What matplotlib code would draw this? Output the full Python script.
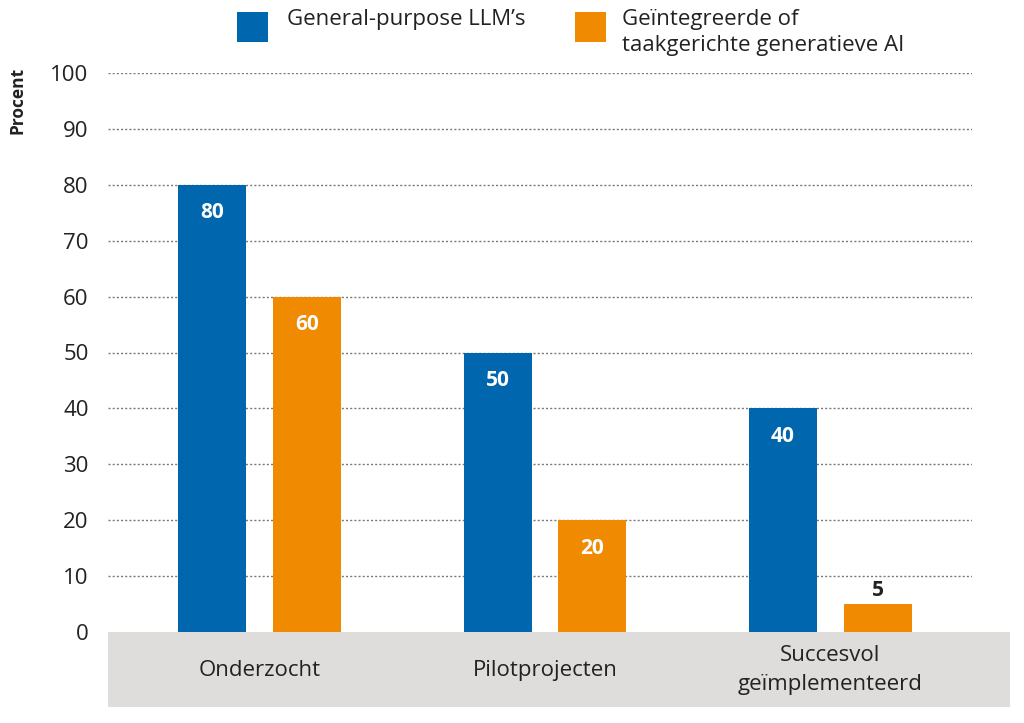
import matplotlib
matplotlib.use("Agg")
import matplotlib.pyplot as plt
from matplotlib.patches import Rectangle
import numpy as np

# Data
categories = ['Onderzocht', 'Pilotprojecten', 'Succesvol\ngeïmplementeerd']
general_llm = [80, 50, 40]
integrated_ai = [60, 20, 5]
series_names = ["General-purpose LLM’s", "Geïntegreerde of\ntaakgerichte generatieve AI"]
yticks = list(range(0, 101, 10))

blue = '#0066ae'
orange = '#f08a00'
band = '#dfdcdc'

plt.rcParams['font.family'] = ['Open Sans', 'DejaVu Sans']

W, H = 1024, 723
fig = plt.figure(figsize=(W / 100, H / 100), dpi=100)
ax = fig.add_axes([108 / W, 1 - 632 / H, (972 - 108) / W, (632 - 73) / H])
ax.set_zorder(2)
ax.patch.set_alpha(0)

# grey band under the axis with the category labels
fig.patches.append(Rectangle((108 / W, 1 - 707 / H), (1010 - 108) / W, 75 / H,
                             transform=fig.transFigure, facecolor=band,
                             edgecolor='none', zorder=0))

x = np.arange(len(categories))
width = 0.238
off = 0.166

bars1 = ax.bar(x - off, general_llm, width, color=blue, zorder=3)
bars2 = ax.bar(x + off, integrated_ai, width, color=orange, zorder=3)

for bars in (bars1, bars2):
    for b in bars:
        h = b.get_height()
        cx = b.get_x() + b.get_width() / 2
        if h >= 10:
            ax.text(cx, h - 5, f'{h:g}', ha='center', va='center', color='white',
                    fontsize=15, fontweight='bold', zorder=4)
        else:
            ax.text(cx, h + 2.5, f'{h:g}', ha='center', va='center', color='#222222',
                    fontsize=15, fontweight='bold', zorder=4)

for i, cat in enumerate(categories):
    ax.text(i, -6.8, cat, ha='center', va='center', fontsize=16, color='#222222',
            clip_on=False, linespacing=1.45)

ax.set_xlim(-0.531, 2.496)
ax.set_ylim(0, 100)
ax.set_yticks(yticks)
ax.set_yticklabels([str(t) for t in yticks], fontsize=16, color='#222222')
ax.set_xticks([])
ax.tick_params(axis='y', length=0, pad=14)
for s in ax.spines.values():
    s.set_visible(False)
for t in yticks[1:]:
    ax.axhline(t, color='#7a7a7a', linestyle=(0, (1.5, 1.5)), linewidth=1.0, zorder=1)

fig.text(18 / W, 1 - 100 / H, 'Procent', rotation=90, ha='center', va='center',
         fontsize=12.5, fontweight='bold', color='#222222')

# legend built by hand
fig.patches.append(Rectangle((237 / W, 1 - 42 / H), 31 / W, 30 / H,
                             transform=fig.transFigure, facecolor=blue, edgecolor='none'))
fig.patches.append(Rectangle((575 / W, 1 - 42 / H), 31 / W, 30 / H,
                             transform=fig.transFigure, facecolor=orange, edgecolor='none'))
fig.text(287 / W, 1 - 9 / H, series_names[0], ha='left', va='top', fontsize=16, color='#222222')
fig.text(622 / W, 1 - 9 / H, series_names[1], ha='left', va='top', fontsize=16,
         color='#222222', linespacing=1.3)

fig.savefig('out.png', dpi=100)
